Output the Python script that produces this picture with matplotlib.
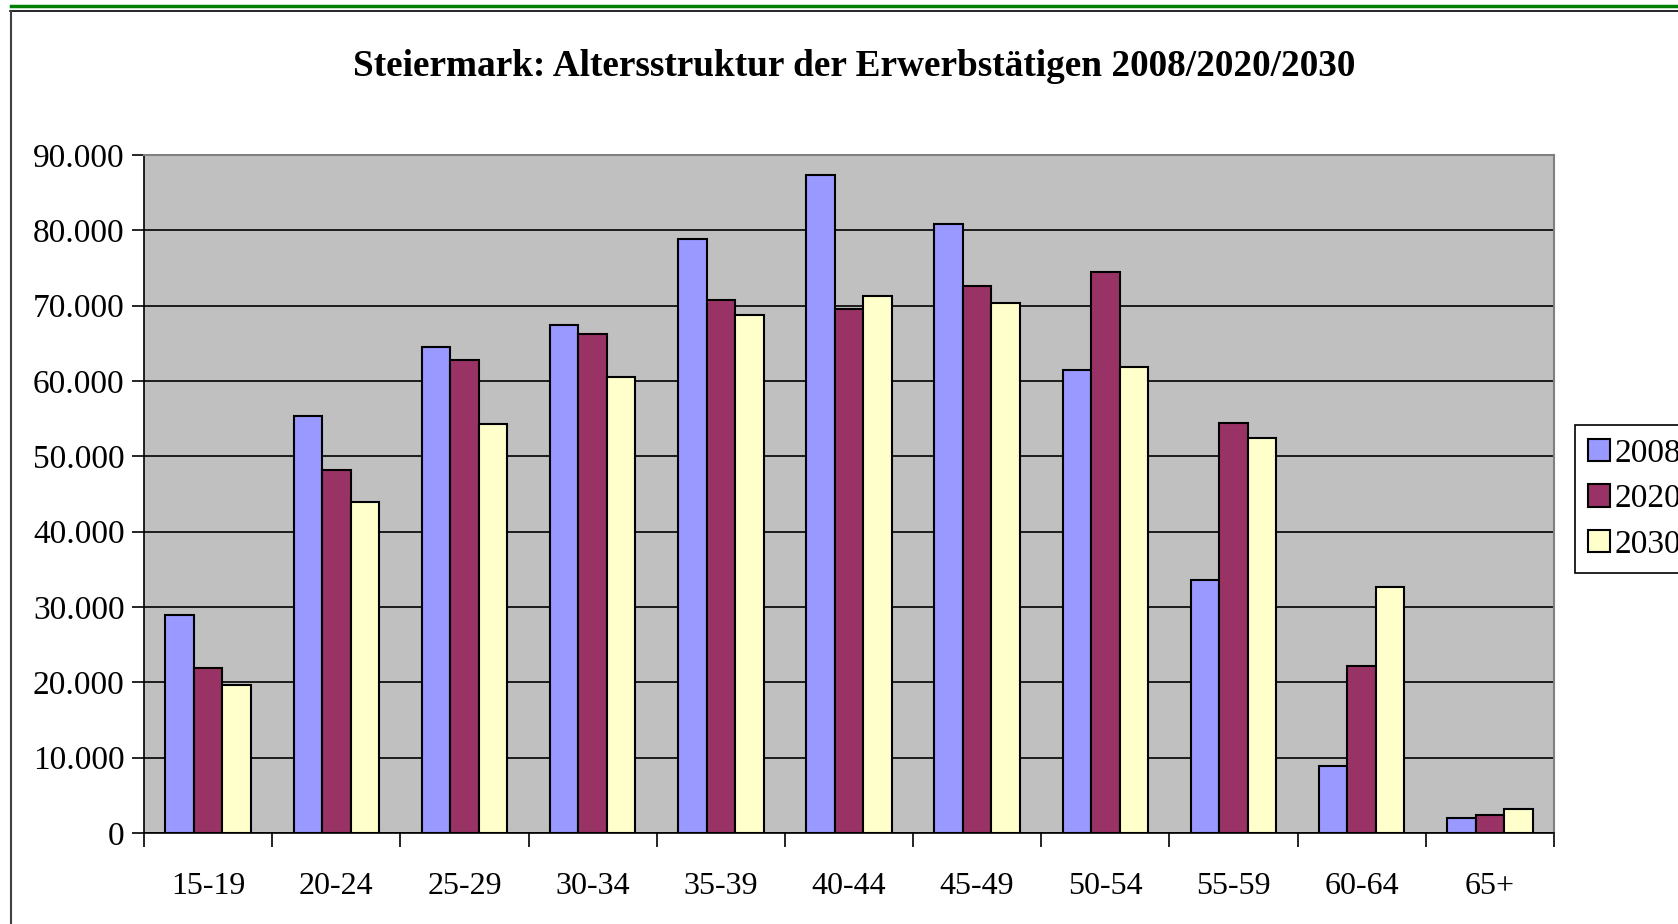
#Altersstruktur der Erwerbstaetigen - Steiermark

import numpy as np
import matplotlib.pyplot as plt
from matplotlib.lines import Line2D
from matplotlib.ticker import FuncFormatter

#Datos
altersgruppen = ["15-19", "20-24", "25-29", "30-34", "35-39", "40-44",
                 "45-49", "50-54", "55-59", "60-64", "65+"]
jahre = ["2008", "2020", "2030"]
werte2008 = [28900, 55400, 64500, 67500, 78800, 87400, 80800, 61400, 33600, 8900, 1950]
werte2020 = [21900, 48200, 62800, 66300, 70700, 69600, 72600, 74500, 54400, 22200, 2400]
werte2030 = [19600, 44000, 54300, 60500, 68800, 71300, 70400, 61800, 52500, 32600, 3200]
farben = ["#9999FF", "#993366", "#FFFFCC"]

plt.rcParams["font.family"] = ["Liberation Serif", "DejaVu Serif"]

W, H = 1678, 924
fig = plt.figure(figsize=(W/100, H/100), dpi=100)
ax = fig.add_axes([144/W, (H-833)/H, 1410/W, (833-155)/H])

x = np.arange(len(altersgruppen))
ancho = 1/4.5
series = [werte2008, werte2020, werte2030]
for i in range(3):
    ax.bar(x + (i-1)*ancho, series[i], width=ancho, color=farben[i],
           edgecolor="black", linewidth=1.5, label=jahre[i], zorder=3)

ax.set_facecolor("#C0C0C0")
ax.set_xlim(-0.5, len(altersgruppen)-0.5)
ax.set_ylim(0, 90000)
ax.set_yticks(np.arange(0, 90001, 10000))
ax.yaxis.set_major_formatter(FuncFormatter(lambda v, p: "0" if v == 0 else "{:,.0f}".format(v).replace(",", ".")))
ax.grid(axis="y", color="black", linewidth=1.2, zorder=1)
ax.set_xticks(np.arange(-0.5, len(altersgruppen)))
ax.set_xticklabels([])
ax.set_xticks(x, minor=True)
ax.set_xticklabels(altersgruppen, minor=True)
ax.tick_params(axis="x", which="major", length=10, width=1.2, direction="out")
ax.tick_params(axis="x", which="minor", length=0, pad=28, labelsize=23)
ax.tick_params(axis="y", length=9, width=1.2, direction="out", pad=5, labelsize=24)

for s in ["top", "right"]:
    ax.spines[s].set_color("#808080")
    ax.spines[s].set_linewidth(1.5)
for s in ["left", "bottom"]:
    ax.spines[s].set_color("black")
    ax.spines[s].set_linewidth(1.2)

fig.text(854/W, 1-66/H, "Steiermark: Altersstruktur der Erwerbstätigen 2008/2020/2030",
         ha="center", va="center", fontsize=26.8, fontweight="bold")

leg = fig.legend(loc="upper left", bbox_to_anchor=(1575/W, 1-425/H), fontsize=24,
                 frameon=True, fancybox=False, edgecolor="black", framealpha=1,
                 handlelength=0.65, handleheight=0.65, handletextpad=0.15,
                 borderpad=0.4, labelspacing=0.45, borderaxespad=0)
leg.get_frame().set_linewidth(1.2)

#Marco
fig.add_artist(Line2D([11/W, 1], [1-5.5/H, 1-5.5/H], color="#008000", linewidth=2.5))
fig.add_artist(Line2D([10/W, 1], [1-10.5/H, 1-10.5/H], color="black", linewidth=1.2))
fig.add_artist(Line2D([10.5/W, 10.5/W], [0, 1-10.5/H], color="#404040", linewidth=1.5))

plt.savefig("out.png", dpi=100)
